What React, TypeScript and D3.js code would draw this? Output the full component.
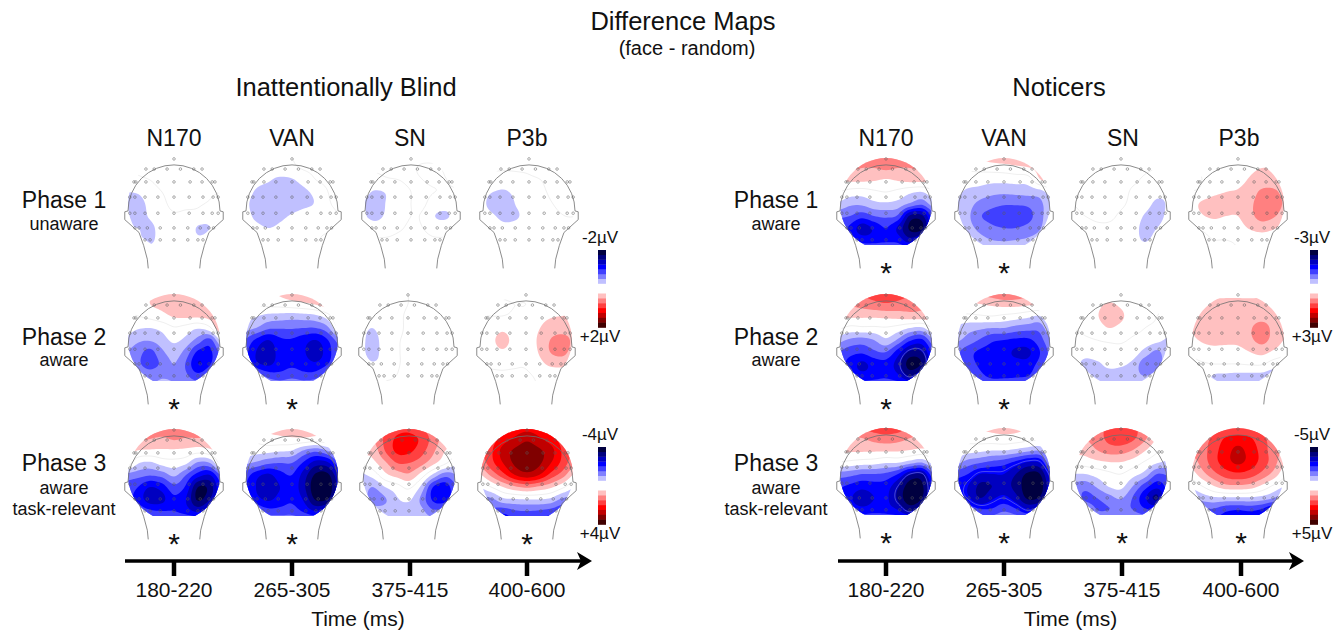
import React, { useMemo } from "react";
import * as d3 from "d3";

// potential on a 9x9 lattice over the head, front row first, in tenths of one colour step
// (negative = blue, positive = red, |v| < 10 is white)
const blindP1N170 = [
  3, 3, 3, 3, 3, 3, 3, 3, 3,
  0, 2, 4, 4, 4, 4, 4, 4, 4,
  -4, -2, 0, 3, 4, 4, 4, 4, 4,
  -10, -9, -4, 0, 3, 4, 3, 1, 0,
  -14, -14, -7, -2, 2, 2, 1, -1, -2,
  -13, -13, -9, -4, -1, -2, -3, -7, -4,
  -10, -10, -12, -6, -3, -3, -11, -10, -6,
  -6, -8, -12, -5, -2, -3, -8, -6, -4,
  -3, -4, -6, -3, -1, -1, -2, -2, -2,
];
const blindP1VAN = [
  -2, -2, -2, -1, 0, 3, 3, 3, 3,
  -3, -4, -5, -4, -2, 1, 2, 3, 3,
  -4, -7, -9, -12, -11, -6, 0, 2, 3,
  -6, -11, -14, -15, -14, -12, -7, 0, 2,
  -8, -13, -15, -15, -14, -12, -9, -1, 1,
  -6, -12, -14, -12, -9, -6, -4, -2, 0,
  -3, -7, -10, -8, -5, -3, -2, -2, -1,
  2, -1, -4, -3, -2, -2, -1, 3, 3,
  4, 3, 2, 1, 1, 1, 2, 4, 4,
];
const blindP1SN = [
  2, 2, 2, 2, 2, 2, 2, 2, 2,
  0, 1, 2, 2, 1, -1, -1, 1, 2,
  -3, -3, -1, 0, 1, 0, -1, 0, 2,
  -7, -11, -9, -3, 0, 1, 0, -1, -1,
  -10, -15, -9, -3, 0, 1, -4, -6, -3,
  -9, -13, -8, -3, 0, -1, -10, -11, -4,
  -3, -5, -4, -1, 1, 0, -4, -4, -1,
  2, 1, 1, 2, 2, 2, 1, 1, 1,
  4, 3, 3, 3, 3, 3, 3, 3, 3,
];
const blindP1P3b = [
  2, 2, 2, 2, 2, 2, 2, 2, 2,
  0, 1, 1, 1, 1, 2, 3, 3, 3,
  -3, -4, -5, -3, -1, 0, 2, 3, 3,
  -7, -10, -11, -7, -3, -1, 1, 2, 2,
  -8, -13, -15, -9, -5, -2, 0, 1, 1,
  -6, -9, -13, -11, -5, -3, -1, 0, 0,
  -3, -5, -7, -6, -4, -3, -2, -1, 0,
  -1, -2, -3, -3, -2, -1, -1, 0, 0,
  1, 0, -1, -1, 0, 0, 0, 0, 0,
];
const blindP2N170 = [
  2, 4, 8, 10, 11, 12, 14, 18, 22,
  0, 3, 10, 12, 14, 15, 16, 21, 26,
  -1, 0, 3, 7, 11, 12, 12, 14, 22,
  -6, -9, -10, -7, -1, -4, -9, -2, 24,
  -12, -18, -19, -14, -8, -13, -24, -33, -6,
  -20, -26, -33, -22, -15, -24, -42, -42, -26,
  -20, -28, -34, -28, -20, -31, -50, -41, -24,
  -12, -20, -24, -21, -22, -28, -36, -26, -12,
  -8, -14, -18, -18, -18, -20, -22, -18, -8,
];
const blindP2VAN = [
  4, 5, 8, 12, 16, 18, 20, 20, 20,
  0, 1, 3, 4, 6, 8, 11, 16, 20,
  -5, -9, -13, -14, -15, -14, -12, -4, 14,
  -16, -20, -28, -29, -29, -30, -30, -22, 4,
  -30, -42, -50, -42, -41, -46, -50, -40, -24,
  -36, -50, -56, -46, -43, -49, -56, -44, -30,
  -32, -47, -52, -45, -42, -45, -48, -40, -26,
  -14, -22, -33, -36, -33, -36, -34, -22, -10,
  -6, -12, -18, -20, -18, -20, -18, -12, -6,
];
const blindP2SN = [
  -1, -1, -1, -1, 0, 2, 2, 2, 2,
  -2, -3, -3, -2, 0, 2, 3, 3, 3,
  -3, -4, -4, -2, 1, 2, 3, 3, 3,
  -6, -10, -5, -2, 1, 2, 3, 3, 3,
  -6, -14, -6, -1, 1, 2, 3, 3, 3,
  -7, -13, -7, -1, 1, 2, 3, 3, 3,
  -5, -9, -7, -1, 1, 2, 3, 3, 3,
  -2, -3, -2, 0, 2, 2, 3, 3, 3,
  2, 2, 2, 2, 3, 3, 3, 3, 3,
];
const blindP2P3b = [
  2, 2, 2, 2, 2, 2, 2, 2, 2,
  0, -1, -1, 0, 0, 2, 4, 5, 4,
  0, 0, 0, 1, 2, 6, 9, 10, 10,
  0, 2, 7, 4, 3, 9, 14, 15, 15,
  1, 5, 15, 6, 4, 11, 20, 24, 18,
  0, 3, 8, 4, 3, 10, 20, 23, 16,
  0, 1, 2, 1, 1, 6, 12, 13, 10,
  0, -1, -1, -1, -1, 1, 3, 3, 2,
  2, 1, 0, 0, 0, 0, 1, 1, 1,
];
const blindP3N170 = [
  30, 30, 30, 28, 27, 27, 28, 30, 30,
  20, 22, 20, 18, 21, 19, 19, 18, 18,
  14, 9, 8, 8, 8, 7, 4, 7, 14,
  8, -9, -12, -6, -4, -8, -22, -20, 6,
  -24, -26, -29, -26, -18, -30, -45, -50, -28,
  -32, -40, -50, -45, -33, -42, -70, -66, -38,
  -34, -44, -55, -53, -42, -50, -72, -60, -36,
  -16, -30, -38, -40, -40, -45, -52, -40, -16,
  -8, -16, -20, -22, -24, -26, -26, -20, -8,
];
const blindP3VAN = [
  5, 8, 12, 15, 17, 17, 15, 12, 10,
  -2, 2, 6, 7, 8, 8, 6, 8, 10,
  -4, -6, -7, -9, -11, -22, -28, -20, -4,
  -18, -22, -28, -30, -30, -42, -55, -52, -30,
  -34, -46, -52, -44, -40, -55, -72, -72, -50,
  -38, -50, -56, -50, -44, -58, -78, -78, -52,
  -34, -46, -52, -46, -42, -52, -72, -70, -44,
  -14, -28, -36, -36, -35, -42, -50, -40, -16,
  -6, -12, -18, -20, -20, -24, -24, -18, -6,
];
const blindP3SN = [
  20, 22, 28, 35, 36, 30, 24, 18, 14,
  20, 20, 32, 42, 44, 38, 26, 16, 12,
  14, 14, 30, 42, 42, 34, 22, 10, 4,
  1, 7, 18, 30, 30, 24, 13, 2, -8,
  -12, -6, 7, 14, 18, 6, -12, -26, -20,
  -14, -20, -10, -4, 2, -12, -40, -46, -30,
  -12, -25, -21, -11, -8, -22, -42, -45, -28,
  -6, -14, -16, -15, -15, -17, -28, -24, -10,
  -3, -8, -10, -10, -10, -12, -14, -12, -5,
];
const blindP3P3b = [
  28, 32, 40, 44, 46, 44, 40, 32, 28,
  30, 35, 45, 52, 58, 52, 45, 35, 30,
  28, 38, 54, 62, 66, 62, 54, 38, 28,
  22, 36, 50, 62, 66, 62, 50, 36, 22,
  8, 22, 36, 50, 56, 50, 36, 24, 8,
  -10, 0, 10, 18, 22, 18, 12, 2, -10,
  -22, -22, -12, -10, -9, -9, -12, -22, -22,
  -25, -32, -36, -31, -30, -31, -34, -38, -30,
  -40, -50, -50, -40, -38, -40, -50, -50, -35,
];

const noticeP1N170 = [
  26, 26, 26, 28, 28, 28, 26, 26, 26,
  24, 22, 20, 20, 22, 20, 20, 22, 24,
  12, 12, 12, 11, 9, 11, 13, 13, 13,
  0, -4, -5, -2, 0, -3, -8, -10, -2,
  -12, -18, -18, -13, -12, -14, -22, -28, -14,
  -28, -30, -36, -30, -28, -32, -62, -62, -34,
  -34, -42, -55, -48, -40, -52, -72, -72, -36,
  -20, -36, -44, -44, -42, -44, -56, -44, -18,
  -10, -20, -28, -28, -28, -28, -30, -24, -8,
];
const noticeP1VAN = [
  8, 10, 12, 16, 18, 20, 22, 22, 22,
  2, 2, 3, 4, 5, 7, 9, 14, 18,
  -4, -5, -6, -7, -7, -6, -5, 9, 14,
  -8, -12, -14, -17, -18, -17, -16, -14, -5,
  -10, -16, -23, -27, -29, -29, -28, -23, -10,
  -12, -18, -29, -33, -36, -36, -33, -24, -10,
  -9, -16, -23, -28, -30, -30, -27, -21, -8,
  -4, -12, -16, -20, -21, -20, -18, -13, -3,
  -1, -4, -6, -9, -12, -10, -7, -4, -1,
];
const noticeP1SN = [
  2, 2, 2, 2, 2, 2, 2, 2, 2,
  2, 2, 2, 2, 2, 2, 1, 0, -1,
  1, 2, 2, 2, 2, 1, -1, -3, -4,
  0, 1, 2, 2, 2, -1, -3, -7, -8,
  0, 1, 2, 2, 1, -2, -6, -12, -9,
  -1, 0, 1, 1, -1, -4, -11, -14, -7,
  -2, -2, -1, -1, -2, -6, -13, -10, -4,
  -2, -2, -2, -2, -3, -6, -11, -6, -2,
  -1, -1, -1, -1, -2, -3, -4, -2, -1,
];
const noticeP1P3b = [
  0, 0, 1, 2, 3, 4, 5, 5, 4,
  0, 1, 1, 2, 5, 8, 10, 10, 8,
  -2, 0, 2, 5, 7, 11, 14, 14, 11,
  0, 2, 7, 10, 11, 15, 22, 22, 16,
  5, 12, 16, 16, 14, 18, 25, 25, 18,
  3, 9, 12, 10, 10, 17, 24, 21, 14,
  0, 1, 3, 4, 6, 11, 14, 11, 6,
  -1, -1, 0, 0, 1, 3, 4, 3, 2,
  0, -1, -1, -1, 0, 1, 1, 1, 1,
];
const noticeP2N170 = [
  32, 32, 32, 35, 38, 36, 32, 32, 32,
  24, 22, 24, 27, 29, 27, 24, 22, 22,
  14, 12, 12, 12, 13, 14, 16, 16, 16,
  2, -3, -2, -2, -1, -4, -10, -12, 2,
  -16, -22, -24, -20, -12, -22, -38, -42, -20,
  -30, -36, -38, -32, -30, -45, -62, -60, -36,
  -34, -44, -52, -46, -44, -55, -75, -68, -36,
  -18, -40, -46, -44, -42, -48, -60, -46, -16,
  -10, -22, -30, -30, -30, -30, -32, -24, -8,
];
const noticeP2VAN = [
  16, 18, 22, 26, 30, 28, 24, 20, 18,
  8, 8, 10, 12, 14, 14, 12, 12, 14,
  -2, -2, -1, 0, -2, -4, -7, -10, 8,
  -12, -16, -18, -20, -20, -24, -26, -26, -8,
  -18, -24, -31, -38, -40, -42, -42, -34, -20,
  -28, -36, -42, -44, -46, -52, -52, -40, -26,
  -24, -34, -42, -44, -45, -46, -46, -36, -24,
  -6, -24, -36, -43, -43, -42, -40, -26, -8,
  -2, -10, -20, -24, -24, -22, -18, -10, -2,
];
const noticeP2SN = [
  1, 2, 3, 4, 4, 3, 2, 1, 0,
  0, 2, 7, 11, 8, 3, 1, 0, 0,
  0, 2, 9, 16, 12, 4, 1, 0, 0,
  0, 1, 5, 10, 7, 2, 0, -1, -2,
  -1, -1, 0, 1, 1, -1, -3, -7, -12,
  -3, -6, -3, -2, -2, -4, -14, -22, -12,
  -6, -13, -12, -7, -8, -13, -26, -26, -10,
  -6, -14, -14, -14, -15, -16, -20, -14, -5,
  -3, -8, -10, -10, -10, -10, -10, -6, -2,
];
const noticeP2P3b = [
  4, 6, 7, 7, 7, 7, 7, 6, 4,
  7, 9, 12, 13, 13, 13, 13, 11, 9,
  10, 12, 13, 14, 14, 15, 16, 14, 10,
  10, 13, 14, 15, 15, 19, 24, 17, 12,
  8, 11, 13, 13, 13, 18, 23, 16, 9,
  1, 5, 6, 5, 6, 10, 13, 8, 3,
  -2, -1, 0, 0, 0, 1, 1, -5, -6,
  -3, -4, -11, -12, -13, -13, -13, -14, -5,
  -2, -6, -10, -12, -14, -14, -12, -6, -2,
];
const noticeP3N170 = [
  30, 30, 32, 36, 38, 36, 30, 30, 28,
  22, 20, 20, 24, 26, 24, 20, 18, 18,
  14, 12, 12, 12, 12, 12, 10, 8, 10,
  0, -2, -4, -5, -8, -8, -14, -18, -4,
  -24, -26, -30, -30, -32, -40, -58, -60, -30,
  -38, -42, -46, -44, -45, -58, -76, -72, -44,
  -38, -48, -56, -50, -48, -62, -78, -70, -40,
  -20, -40, -46, -44, -45, -50, -62, -50, -18,
  -10, -20, -28, -28, -28, -30, -34, -24, -8,
];
const noticeP3VAN = [
  6, 8, 11, 13, 14, 13, 10, 8, 6,
  3, 3, 5, 6, 7, 6, 4, 3, 2,
  -2, -5, -7, -9, -9, -12, -16, -18, -5,
  -16, -24, -28, -32, -35, -42, -50, -48, -16,
  -36, -40, -50, -50, -50, -60, -72, -70, -40,
  -42, -50, -62, -60, -56, -64, -76, -76, -48,
  -40, -48, -60, -52, -47, -56, -72, -68, -42,
  -16, -30, -38, -38, -32, -38, -48, -40, -16,
  -6, -14, -20, -22, -18, -20, -22, -16, -6,
];
const noticeP3SN = [
  20, 20, 26, 32, 34, 32, 26, 18, 14,
  18, 20, 25, 33, 36, 32, 22, 10, 6,
  14, 14, 20, 25, 25, 20, 11, 2, -2,
  3, 5, 8, 10, 10, 6, -1, -8, -12,
  -10, -10, -6, -2, 0, -6, -14, -30, -28,
  -22, -26, -18, -9, -7, -20, -35, -46, -36,
  -22, -32, -30, -24, -19, -31, -48, -62, -32,
  -12, -20, -30, -30, -28, -30, -38, -38, -15,
  -4, -12, -18, -18, -16, -18, -18, -16, -6,
];
const noticeP3P3b = [
  22, 22, 24, 26, 28, 26, 24, 22, 20,
  24, 26, 32, 41, 44, 41, 32, 26, 22,
  24, 26, 36, 46, 52, 46, 36, 24, 20,
  14, 24, 36, 46, 52, 46, 36, 24, 10,
  4, 16, 27, 35, 38, 35, 27, 16, 2,
  -8, 0, 10, 17, 18, 16, 8, -2, -10,
  -20, -16, -12, -12, -12, -12, -14, -20, -28,
  -24, -30, -32, -38, -40, -38, -42, -50, -35,
  -20, -35, -40, -45, -50, -50, -50, -50, -30,
];

const blindFields = [
  [blindP1N170, blindP1VAN, blindP1SN, blindP1P3b],
  [blindP2N170, blindP2VAN, blindP2SN, blindP2P3b],
  [blindP3N170, blindP3VAN, blindP3SN, blindP3P3b],
];
const noticerFields = [
  [noticeP1N170, noticeP1VAN, noticeP1SN, noticeP1P3b],
  [noticeP2N170, noticeP2VAN, noticeP2SN, noticeP2P3b],
  [noticeP3N170, noticeP3VAN, noticeP3SN, noticeP3P3b],
];
// the maps that carry a thin pale ring in the dark part, and the level of that ring
const ringedMaps = [noticeP2N170, noticeP3N170, noticeP3VAN];
const ringLevels = [58, 58, 47];

const components = ["N170", "VAN", "SN", "P3b"];
const timeWindows = ["180-220", "265-305", "375-415", "400-600"];
const blindSubLabels = [["unaware"], ["aware"], ["aware", "task-relevant"]];
const noticerSubLabels = [["aware"], ["aware"], ["aware", "task-relevant"]];
const blindScaleUv = [2, 4];
const noticerScaleUv = [3, 5];
const blindStars = [[0, 0, 0, 0], [1, 1, 0, 0], [1, 1, 0, 1]];
const noticerStars = [[1, 1, 0, 0], [1, 1, 0, 0], [1, 1, 1, 1]];

const blueSteps = ["#c0c0ff", "#8080ff", "#4040ff", "#0000ff", "#0000c0", "#000080", "#000040"];
const redSteps = ["#ffc0c0", "#ff8080", "#ff4040", "#ff0000", "#c00000", "#800000", "#400000"];
const stepLevels = [10, 20, 30, 40, 50, 60, 70];

// electrode montage, in head radii
const electrodeRows: [number, number[]][] = [
  [-0.98, [0]],
  [-0.76, [-0.61, -0.43, -0.15, 0.14, 0.43, 0.61]],
  [-0.48, [-0.87, -0.83, -0.61, -0.35, 0, 0.35, 0.61, 0.83, 0.89]],
  [-0.15, [-0.96, -0.85, -0.63, -0.35, 0, 0.33, 0.63, 0.85, 0.96]],
  [0.2, [-0.96, -0.85, -0.63, -0.35, 0, 0.33, 0.63, 0.83, 0.96]],
  [0.52, [-0.85, -0.76, -0.58, -0.3, 0, 0.3, 0.57, 0.76, 0.86]],
  [0.78, [-0.63, -0.52, -0.3, 0, 0.3, 0.52, 0.63]],
];
const headOutline: [number, number][] = [
  [-0.56, 1.4], [-0.58, 1.2], [-0.66, 0.9], [-0.76, 0.62], [-0.98, 0.42], [-1.07, 0.34], [-1.07, 0.17], [-1.0, 0.15],
];
const headR = 46;
const latticeSpan = 48;
const latticeN = 9;
const fine = 6;
const fineN = (latticeN - 1) * fine + 1;

const rad = d3.scaleLinear().domain([-1, 1]).range([-headR, headR]);
const fineToPx = d3.scaleLinear().domain([0.5, fineN - 0.5]).range([-latticeSpan, latticeSpan]);
const contourPath = d3.geoPath(
  d3.geoTransform({
    point(x: number, y: number) {
      (this as any).stream.point(fineToPx(x), fineToPx(y));
    },
  }),
);

function catmull(a: number, b: number, c: number, d: number, t: number) {
  return 0.5 * (2 * b + (c - a) * t + (2 * a - 5 * b + 4 * c - d) * t * t + (3 * b - a - 3 * c + d) * t * t * t);
}

function upsample(v: number[]) {
  const at = (r: number, c: number) =>
    v[Math.max(0, Math.min(latticeN - 1, r)) * latticeN + Math.max(0, Math.min(latticeN - 1, c))];
  const out = new Array(fineN * fineN);
  for (let j = 0; j < fineN; j++) {
    const r = Math.min(Math.floor(j / fine), latticeN - 2);
    const ty = j / fine - r;
    for (let i = 0; i < fineN; i++) {
      const c = Math.min(Math.floor(i / fine), latticeN - 2);
      const tx = i / fine - c;
      const rows = [-1, 0, 1, 2].map((k) =>
        catmull(at(r + k, c - 1), at(r + k, c), at(r + k, c + 1), at(r + k, c + 2), tx),
      );
      out[j * fineN + i] = catmull(rows[0], rows[1], rows[2], rows[3], ty);
    }
  }
  return out;
}

function TopoMap({ values, cx, cy }: { values: number[]; cx: number; cy: number }) {
  const ringAt = ringedMaps.indexOf(values);
  const shapes = useMemo(() => {
    const grid = upsample(values);
    const contours = d3.contours().size([fineN, fineN]);
    const neg = grid.map((d) => -d);
    return {
      zero: contourPath(contours.thresholds([0])(grid)[0]),
      ring: ringAt >= 0 ? contourPath(contours.thresholds([ringLevels[ringAt]])(neg)[0]) : null,
      red: contours.thresholds(stepLevels)(grid).map((c) => contourPath(c)),
      blue: contours.thresholds(stepLevels)(neg).map((c) => contourPath(c)),
    };
  }, [values, ringAt]);
  const outline = d3.line();
  const left = headOutline.map(([x, y]) => [rad(x), rad(y)] as [number, number]);
  const right = headOutline.map(([x, y]) => [rad(-x), rad(y)] as [number, number]).reverse();
  const head =
    outline(left) +
    `A${headR} ${headR} 0 0 1 ${right[0][0]} ${right[0][1]}` +
    outline(right)!.replace(/^M/, "L");
  return (
    <g transform={`translate(${cx},${cy})`}>
      <g clipPath="url(#scalp)">
        {shapes.blue.map((d, i) => (
          <path key={"b" + i} d={d!} fill={blueSteps[i]} />
        ))}
        {shapes.red.map((d, i) => (
          <path key={"r" + i} d={d!} fill={redSteps[i]} />
        ))}
        <path d={shapes.zero!} fill="none" stroke="#e4e4e4" strokeWidth={0.6} />
        {shapes.ring && <path d={shapes.ring} fill="none" stroke="#9090e0" strokeWidth={0.5} />}
      </g>
      <path d={head} fill="none" stroke="#6e6e6e" strokeWidth={0.8} />
      {electrodeRows.map(([y, xs]) =>
        xs.map((x) => (
          <circle key={x + "_" + y} cx={rad(x)} cy={rad(y)} r={1.3} fill="none" stroke="#5a5a5a" strokeWidth={0.5} />
        )),
      )}
    </g>
  );
}

function ColorBar({ x, top, scaleUv }: { x: number; top: number; scaleUv: number }) {
  const band = d3.scaleBand<number>().domain(d3.range(7)).range([top, top + 33.5]);
  const redBand = d3.scaleBand<number>().domain(d3.range(7)).range([top + 43.5, top + 77.5]);
  return (
    <g>
      <text x={x + 2} y={top - 7} fontSize={17} textAnchor="middle">{`-${scaleUv}µV`}</text>
      {blueSteps.map((c, i) => (
        <rect key={c} x={x} y={band(6 - i)} width={8} height={band.bandwidth() + 0.3} fill={c} />
      ))}
      {redSteps.map((c, i) => (
        <rect key={c} x={x} y={redBand(i)} width={8} height={redBand.bandwidth() + 0.3} fill={c} />
      ))}
      <text x={x + 2} y={top + 92} fontSize={17} textAnchor="middle">{`+${scaleUv}µV`}</text>
    </g>
  );
}

function Panel(props: {
  title: string;
  titleX: number;
  fields: number[][][];
  centers: number[][];
  rowsY: number[];
  subLabels: string[][];
  labelX: number;
  stars: number[][];
  barX: number;
  scales: number[];
  barTops: number[];
  colX: number[];
  ticks: number[];
  axis: [number, number];
}) {
  const { title, titleX, fields, centers, rowsY, subLabels, labelX, stars, barX, scales, barTops, colX, ticks, axis } = props;
  const [a0, a1] = axis;
  return (
    <g>
      <text x={titleX} y={96} fontSize={25.5} textAnchor="middle">{title}</text>
      {components.map((c, i) => (
        <text key={c} x={colX[i]} y={146} fontSize={23} textAnchor="middle">{c}</text>
      ))}
      {fields.map((row, r) =>
        row.map((values, c) => <TopoMap key={r + "-" + c} values={values} cx={centers[r][c]} cy={rowsY[r]} />),
      )}
      {stars.map((row, r) =>
        row.map((s, c) =>
          s ? (
            <text key={r + "*" + c} x={ticks[c]} y={rowsY[r] + 79} fontSize={30} textAnchor="middle">*</text>
          ) : null,
        ),
      )}
      {subLabels.map((subs, r) => (
        <g key={r} textAnchor="middle">
          <text x={labelX} y={[208, 345, 471][r]} fontSize={23}>{`Phase ${r + 1}`}</text>
          {subs.map((s, k) => (
            <text key={s} x={labelX} y={[230, 366, 494][r] + k * 21} fontSize={18}>{s}</text>
          ))}
        </g>
      ))}
      {scales.map((s, i) => (
        <ColorBar key={s} x={barX} top={barTops[i]} scaleUv={s} />
      ))}
      <line x1={a0} x2={a1 - 10} y1={561} y2={561} stroke="#000" strokeWidth={3.4} />
      <path d={`M${a1},561L${a1 - 15},552L${a1 - 11},561L${a1 - 15},570Z`} fill="#000" />
      {ticks.map((t, i) => (
        <g key={t}>
          <line x1={t} x2={t} y1={561} y2={576} stroke="#000" strokeWidth={4.5} />
          <text x={t} y={597} fontSize={21} textAnchor="middle">{timeWindows[i]}</text>
        </g>
      ))}
      <text x={(a0 + a1) / 2 - 0.5} y={626} fontSize={21} textAnchor="middle">Time (ms)</text>
    </g>
  );
}

export default function App() {
  return (
    <svg
      width={1344}
      height={634}
      style={{ position: "absolute", left: 0, top: 0, background: "#fff" }}
      fontFamily="'Liberation Sans', Arial, sans-serif"
      fill="#111"
    >
      <defs>
        <clipPath id="scalp">
          <path d={`M-21 41A${headR} ${headR} 0 1 1 21 41Z`} />
        </clipPath>
      </defs>
      <text x={683} y={30} fontSize={25.5} textAnchor="middle">Difference Maps</text>
      <text x={687} y={55} fontSize={20} textAnchor="middle">(face - random)</text>
      <Panel
        title="Inattentionally Blind"
        titleX={346}
        fields={blindFields}
        centers={[[174, 292, 411, 529], [174, 292, 408, 526], [174, 292, 409, 527]]}
        rowsY={[204, 340, 475]}
        subLabels={blindSubLabels}
        labelX={64}
        stars={blindStars}
        barX={598}
        scales={blindScaleUv}
        barTops={[250, 447]}
        colX={[174, 292, 410, 527]}
        ticks={[174, 292, 410, 527]}
        axis={[125, 592]}
      />
      <Panel
        title="Noticers"
        titleX={1059}
        fields={noticerFields}
        centers={[[886, 1004, 1121, 1238], [886, 1004, 1121, 1238], [886, 1004, 1121, 1238]]}
        rowsY={[204, 340, 474]}
        subLabels={noticerSubLabels}
        labelX={776}
        stars={noticerStars}
        barX={1310}
        scales={noticerScaleUv}
        barTops={[250, 447]}
        colX={[886, 1004, 1123, 1239]}
        ticks={[886, 1004, 1122, 1241]}
        axis={[838, 1304]}
      />
    </svg>
  );
}
